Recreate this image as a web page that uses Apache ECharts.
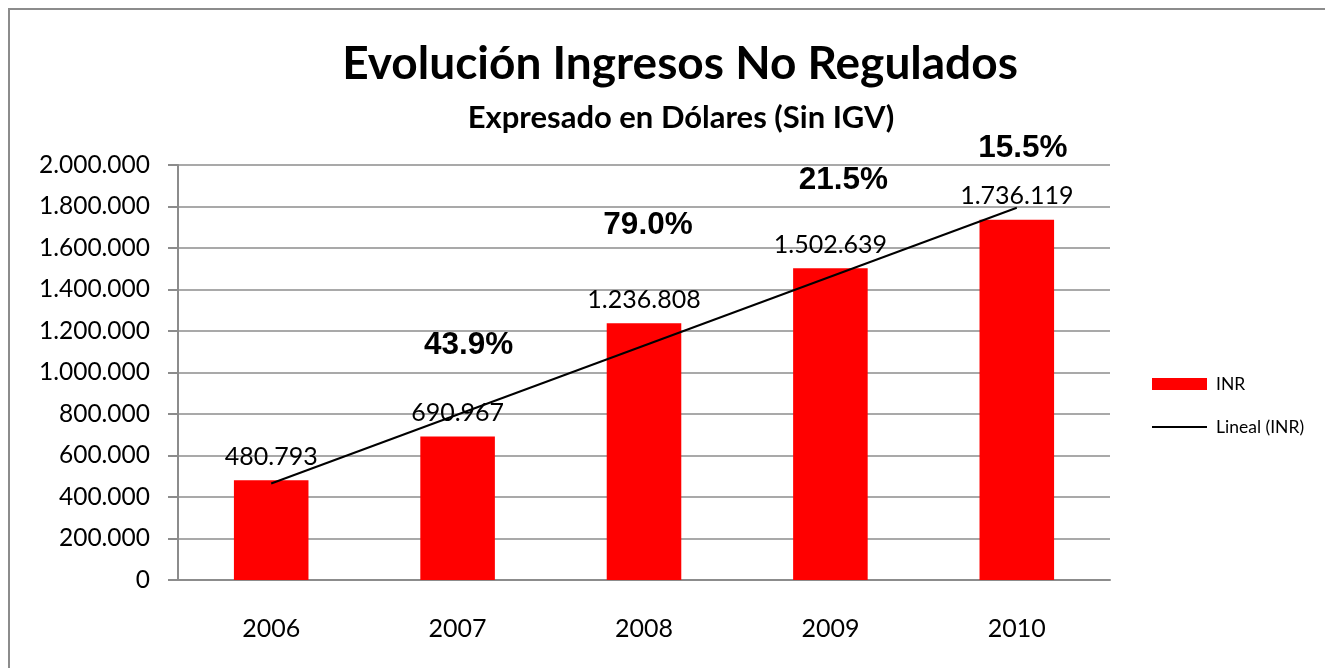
<!DOCTYPE html>
<html>
<head>
<meta charset="utf-8">
<title>Evolución Ingresos No Regulados</title>
<script src="https://cdn.jsdelivr.net/npm/echarts@6/dist/echarts.min.js"></script>
<style>
  html, body { margin: 0; padding: 0; background: #fff; }
  #chart { width: 1325px; height: 668px; }
</style>
</head>
<body>
<div id="chart"></div>
<script>
// datos
const years = ['2006', '2007', '2008', '2009', '2010']
const inrValues = [480793, 690967, 1236808, 1502639, 1736119]
const growthLabels = ['', '43.9%', '79.0%', '21.5%', '15.5%']
// tendencia lineal (extremos)
const trendValues = [465000, '-', '-', '-', 1794000]

const fmt = v => String(v).replace(/\B(?=(\d{3})+(?!\d))/g, '.')

const chart = echarts.init(document.getElementById('chart'))

const gridColor = '#8c8c8c'
const textFont = 'Lato, "Open Sans", sans-serif'

chart.setOption({
  animation: false,
  backgroundColor: '#fff',
  title: [
    {
      text: 'Evolución Ingresos No Regulados',
      left: 675,
      textAlign: 'center',
      top: 36,
      textStyle: { fontFamily: textFont, fontWeight: 'bold', fontSize: 46, color: '#000' }
    },
    {
      text: 'Expresado en Dólares (Sin IGV)',
      left: 676,
      textAlign: 'center',
      top: 97,
      textStyle: { fontFamily: textFont, fontWeight: 'bold', fontSize: 31, color: '#000' }
    }
  ],
  legend: {
    orient: 'vertical',
    left: 1152,
    top: 375,
    padding: 0,
    itemWidth: 55,
    itemHeight: 12,
    itemGap: 25,
    textStyle: { fontFamily: textFont, fontSize: 17.5, color: '#000', padding: [0, 0, 0, 4] },
    data: [
      { name: 'INR', icon: 'rect' },
      { name: 'Lineal (INR)', icon: 'path://M0,0H55V2H0Z' }
    ]
  },
  grid: { left: 178, right: 215, top: 165, bottom: 88 },
  xAxis: {
    type: 'category',
    data: years,
    axisLine: { lineStyle: { color: gridColor, width: 2 } },
    axisTick: { length: 9, lineStyle: { color: gridColor, width: 2 } },
    axisLabel: { margin: 36, fontFamily: textFont, fontSize: 25, color: '#000' }
  },
  yAxis: {
    type: 'value',
    min: 0,
    max: 2000000,
    interval: 200000,
    axisLine: { show: true, lineStyle: { color: gridColor, width: 2 } },
    axisTick: { show: true, length: 10, lineStyle: { color: gridColor, width: 2 } },
    splitLine: { lineStyle: { color: gridColor, width: 1.5 } },
    axisLabel: { margin: 28, fontFamily: textFont, fontSize: 24.5, color: '#000', formatter: fmt }
  },
  series: [
    {
      name: 'INR',
      type: 'bar',
      data: inrValues,
      barWidth: '40%',
      itemStyle: { color: '#ff0000' },
      label: {
        show: true,
        position: 'top',
        distance: 11,
        fontFamily: textFont,
        fontSize: 25,
        color: '#000',
        formatter: p => fmt(p.value)
      },
      z: 2
    },
    {
      name: 'Lineal (INR)',
      type: 'line',
      data: trendValues,
      connectNulls: true,
      symbol: 'none',
      showSymbol: false,
      lineStyle: { color: '#000', width: 2 },
      itemStyle: { color: '#000' },
      z: 3
    }
  ]
})

// etiquetas de crecimiento (posicion vertical en valores del eje)
const growthLevels = [0, 1130000, 1710000, 1928000, 2082000]
const growthShift = [0, 11, 4, 13, 6]
const graphics = [
  {
    type: 'rect',
    shape: { x: 9, y: 9, width: 1340, height: 700 },
    style: { fill: 'none', stroke: '#8c8c8c', lineWidth: 2 },
    silent: true
  }
]
growthLabels.forEach((txt, i) => {
  if (!txt) return
  const pt = chart.convertToPixel({ gridIndex: 0 }, [years[i], growthLevels[i]])
  graphics.push({
    type: 'text',
    x: pt[0] + growthShift[i],
    y: pt[1],
    style: {
      text: txt,
      fontFamily: '"Liberation Sans", Arial, sans-serif',
      fontWeight: 'bold',
      fontSize: 31.5,
      fill: '#000',
      align: 'center',
      verticalAlign: 'middle'
    },
    z: 10
  })
})
chart.setOption({ graphic: graphics })
</script>
</body>
</html>
